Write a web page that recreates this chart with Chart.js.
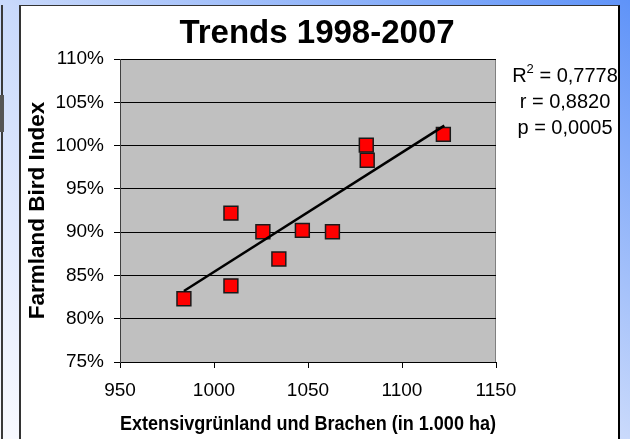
<!DOCTYPE html>
<html lang="de">
<head>
  <meta charset="UTF-8">
  <title>Trends 1998-2007</title>
  <script src="https://cdn.jsdelivr.net/npm/chart.js"></script>
  <style>
    html, body {
      margin: 0;
      padding: 0;
      width: 630px;
      height: 439px;
      overflow: hidden;
    }
    body {
      position: relative;
      background: linear-gradient(to bottom left, #5f93f8 0%, #c9d9fb 50%, #f9faff 100%);
    }
    .edge {
      position: absolute;
      left: 1px;
      top: 5px;
      width: 2px;
      height: 440px;
      background: #3a3a3a;
    }
    .edge-block {
      position: absolute;
      left: 0;
      top: 95px;
      width: 4px;
      height: 37px;
      background: #555;
    }
    .frame {
      position: absolute;
      left: 19px;
      top: 5px;
      width: 597px;
      height: 440px;
      background: #fff;
      border-left: 2px solid #333;
      border-top: 1px solid #333;
      border-right: 2px solid #000;
    }
    canvas {
      position: absolute;
      left: 0;
      top: 0;
    }
  </style>
</head>
<body>
  <div class="edge"></div>
  <div class="edge-block"></div>
  <div class="frame"></div>
  <canvas id="chart" width="630" height="439"></canvas>

  <script>
    // values
    const extensiveArea = [984, 1009, 1009, 1026, 1034.5, 1047, 1063, 1081, 1081.5, 1122];
    const birdIndex = [82.3, 92.2, 83.8, 90.05, 86.9, 90.2, 90.05, 100.05, 98.3, 101.3];

    // trendline end points as drawn in the picture
    const trendX = [984, 1122.5];
    const trendY = [83.2, 102.3];

    const xTicks = [950, 1000, 1050, 1100, 1150];
    const yTicks = [75, 80, 85, 90, 95, 100, 105, 110];

    const rSquared = '0,7778';
    const rValue = '0,8820';
    const pValue = '0,0005';

    const FONT = "'Liberation Sans', Arial, sans-serif";

    const points = extensiveArea.map((x, i) => ({x: x, y: birdIndex[i]}));
    const trend = trendX.map((x, i) => ({x: x, y: trendY[i]}));

    // grey plot background with a thin grey frame on the right
    const plotBackground = {
      id: 'plotBackground',
      beforeDraw(chart) {
        const {ctx, chartArea: a} = chart;
        ctx.save();
        ctx.fillStyle = '#c0c0c0';
        ctx.fillRect(a.left, a.top, a.right - a.left, a.bottom - a.top);
        ctx.strokeStyle = '#808080';
        ctx.lineWidth = 1;
        ctx.beginPath();
        ctx.moveTo(Math.round(a.right) - 0.5, a.top);
        ctx.lineTo(Math.round(a.right) - 0.5, a.bottom);
        ctx.stroke();
        ctx.restore();
      }
    };

    // regression statistics at the right of the plot
    const statsText = {
      id: 'statsText',
      afterDraw(chart) {
        const {ctx, chartArea: a} = chart;
        const cx = a.right + 69;
        ctx.save();
        ctx.fillStyle = '#000';
        ctx.textBaseline = 'middle';

        // R² line with a raised 2
        ctx.font = '20px ' + FONT;
        const head = 'R';
        const tail = ' = ' + rSquared;
        const wHead = ctx.measureText(head).width;
        const wTail = ctx.measureText(tail).width;
        ctx.font = '13px ' + FONT;
        const wSup = ctx.measureText('2').width;
        let x = cx - (wHead + wSup + wTail) / 2;
        const y1 = a.top + 17;
        ctx.textAlign = 'left';
        ctx.font = '20px ' + FONT;
        ctx.fillText(head, x, y1);
        x += wHead;
        ctx.font = '13px ' + FONT;
        ctx.fillText('2', x, y1 - 7);
        x += wSup;
        ctx.font = '20px ' + FONT;
        ctx.fillText(tail, x, y1);

        ctx.textAlign = 'center';
        ctx.fillText('r = ' + rValue, cx, y1 + 26);
        ctx.fillText('p = ' + pValue, cx, y1 + 52);
        ctx.restore();
      }
    };

    const ctx = document.getElementById('chart').getContext('2d');

    new Chart(ctx, {
      data: {
        datasets: [
          {
            type: 'line',
            label: 'Trend',
            data: trend,
            borderColor: '#000',
            borderWidth: 2.5,
            pointRadius: 0,
            fill: false,
            order: 0
          },
          {
            type: 'scatter',
            label: 'Farmland Bird Index',
            data: points,
            pointStyle: 'rect',
            pointRadius: 9.8,
            pointHoverRadius: 9.8,
            backgroundColor: '#ff0000',
            borderColor: '#1a1a1a',
            borderWidth: 1.5,
            order: 1
          }
        ]
      },
      options: {
        responsive: false,
        animation: false,
        devicePixelRatio: 1,
        layout: {
          padding: {left: 4, right: 0, top: 0, bottom: 0}
        },
        plugins: {
          legend: {display: false},
          tooltip: {enabled: false},
          title: {
            display: true,
            text: 'Trends 1998-2007',
            color: '#000',
            font: {family: FONT, size: 33, weight: 'bold', lineHeight: 1.2},
            padding: {top: 14, bottom: 5.4}
          }
        },
        scales: {
          x: {
            type: 'linear',
            position: 'bottom',
            min: 950,
            max: 1150,
            afterBuildTicks: (scale) => {
              scale.ticks = xTicks.map(v => ({value: v}));
            },
            afterFit: (scale) => {
              scale.height = 77;
            },
            ticks: {
              color: '#000',
              padding: 11,
              maxRotation: 0,
              autoSkip: false,
              font: {family: FONT, size: 19},
              callback: (v) => String(v)
            },
            grid: {
              drawOnChartArea: false,
              drawTicks: true,
              tickLength: 6,
              color: '#000'
            },
            border: {color: '#000', width: 1},
            title: {
              display: true,
              text: 'Extensivgrünland und Brachen (in 1.000 ha)',
              color: '#000',
              font: {family: FONT, size: 20, weight: 'bold', lineHeight: 1.2},
              padding: {top: 0, bottom: 3}
            }
          },
          y: {
            type: 'linear',
            position: 'left',
            min: 75,
            max: 110,
            afterBuildTicks: (scale) => {
              scale.ticks = yTicks.map(v => ({value: v}));
            },
            afterFit: (scale) => {
              scale.width = 116;
            },
            ticks: {
              color: '#000',
              padding: 10,
              autoSkip: false,
              font: {family: FONT, size: 19},
              callback: (v) => v + '%'
            },
            grid: {
              color: '#000',
              lineWidth: 1,
              tickLength: 6
            },
            border: {color: '#404040', width: 1},
            title: {
              display: true,
              text: 'Farmland Bird Index',
              color: '#000',
              font: {family: FONT, size: 22.5, weight: 'bold', lineHeight: 1.2},
              padding: {top: 20.5, bottom: 0}
            }
          },
          side: {
            type: 'linear',
            position: 'right',
            min: 0,
            max: 1,
            afterFit: (scale) => {
              scale.width = 134;
            },
            ticks: {display: false},
            grid: {display: false},
            border: {display: false}
          }
        }
      },
      plugins: [plotBackground, statsText]
    });
  </script>
</body>
</html>
